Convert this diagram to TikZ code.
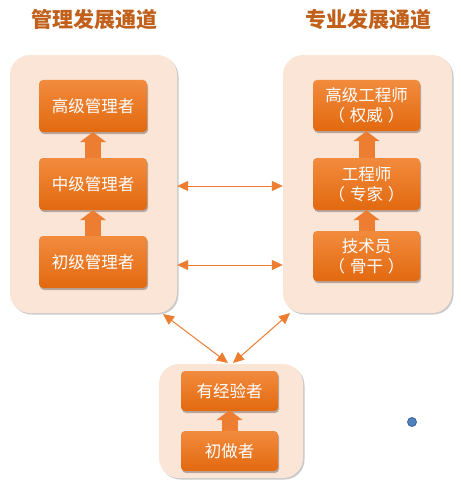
\documentclass[tikz,border=0pt]{standalone}
\usepackage{fontspec}
\setmainfont{Noto Sans CJK SC}
\usetikzlibrary{arrows.meta,shadows,positioning}
\definecolor{PathTitle}{HTML}{C0601A}
\definecolor{PanelFill}{HTML}{FBE5D7}
\definecolor{StepTop}{HTML}{F28B3E}
\definecolor{StepBottom}{HTML}{E2690F}
\definecolor{LinkOrange}{HTML}{ED7D31}
\definecolor{DotBlue}{HTML}{4F81BD}
\definecolor{DotRim}{HTML}{3A6595}
\newcommand{\paren}[1]{（\hspace{0.3em}#1\hspace{0.3em}）}

\begin{document}
\begin{tikzpicture}[
    x=1pt, y=-1pt,
    title/.style={font=\fontsize{21}{24}\selectfont\bfseries, text=PathTitle},
    panel/.style={
        fill=PanelFill,
        rounded corners=20pt,
        drop shadow={shadow xshift=1.5pt, shadow yshift=-1.5pt,
                     opacity=0.35, fill=black!60}
    },
    stepbox/.style={
        top color=StepTop, bottom color=StepBottom,
        rounded corners=4pt,
        text=white,
        align=center,
        font=\fontsize{16.5}{20}\selectfont,
        drop shadow={shadow xshift=1pt, shadow yshift=-2pt,
                     opacity=0.4, fill=black!70}
    },
    promote/.style={-{Triangle[width=26pt,length=10pt]},
                    draw=LinkOrange, fill=LinkOrange, line width=16pt},
    link/.style={{Triangle[length=11pt,width=10pt]}-{Triangle[length=11pt,width=10pt]},
                 draw=LinkOrange, line width=1pt}
]
    \useasboundingbox (0,0) rectangle (460,492);

    \node[title] (mgmttitle) at (94,20) {管理发展通道};
    \node[title] (techtitle) at (368,20) {专业发展通道};

    % three panels
    \node[panel, minimum width=167pt, minimum height=258pt] (mgmt) at (93.5,184) {};
    \node[panel, minimum width=169pt, minimum height=258pt] (tech) at (367.5,184) {};
    \node[panel, minimum width=144pt, minimum height=114pt] (base) at (231,421) {};

    % management path
    \foreach \name/\y/\txt in {m1/106/高级管理者, m2/184/中级管理者, m3/262/初级管理者} {
        \node[stepbox, minimum width=108pt, minimum height=52pt] (\name) at (93,\y) {\txt};
    }
    \draw[promote] (m3.north) -- (m2.south);
    \draw[promote] (m2.north) -- (m1.south);

    % technical path
    \node[stepbox, minimum width=107pt, minimum height=51pt] (t1) at (366.5,105.5)
        {高级工程师\\\paren{权威}};
    \node[stepbox, minimum width=107pt, minimum height=52pt] (t2) at (366.5,184)
        {工程师\\\paren{专家}};
    \node[stepbox, minimum width=107pt, minimum height=50pt] (t3) at (366.5,256)
        {技术员\\\paren{骨干}};
    \draw[promote] (t3.north) -- (t2.south);
    \draw[promote] (t2.north) -- (t1.south);

    % entry level
    \node[stepbox, minimum width=97pt, minimum height=40pt] (b1) at (229.5,391) {有经验者};
    \node[stepbox, minimum width=97pt, minimum height=40pt] (b2) at (229.5,451) {初做者};
    \draw[promote, shorten >=-1pt] (b2.north) -- (b1.south);

    % links between the paths
    \draw[link] ([yshift=-2pt]mgmt.east) -- ([yshift=-2pt]tech.east -| tech.west);
    \draw[link] ([yshift=-81pt]mgmt.east) -- ([yshift=-81pt]tech.east -| tech.west);

    \coordinate (mgmtfoot) at (163,314);
    \coordinate (techfoot) at (290,313);
    \coordinate (baseleft) at (228,363);
    \coordinate (baseright) at (233,363);
    \draw[link] (mgmtfoot) -- (baseleft);
    \draw[link] (techfoot) -- (baseright);

    \node[circle, fill=DotBlue, draw=DotRim, line width=0.8pt,
          minimum size=9pt, inner sep=0pt] (dot) at (412,422) {};
\end{tikzpicture}
\end{document}
